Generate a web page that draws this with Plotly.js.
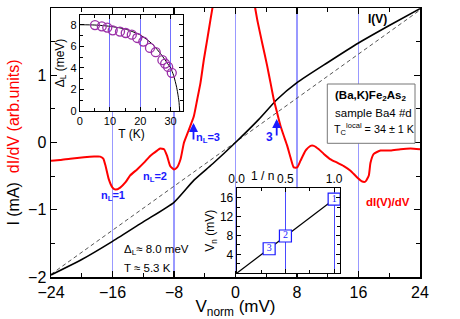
<!DOCTYPE html>
<html><head><meta charset="utf-8">
<script src="https://cdn.plot.ly/plotly-3.0.1.min.js"></script>
<style>html,body{margin:0;padding:0;background:#fff}#chart{width:460px;height:319px}</style>
</head><body><div id="chart"></div>
<script>
// ---- main panel: I(V) curve ----
const ivV = [-24,-20,-16,-12,-8,-5.4,-3,0,3,5.4,8,12,16,20,24];
const ivI = [-1.97,-1.74,-1.47,-1.18,-0.89,-0.56,-0.32,0,0.34,0.64,0.89,1.19,1.48,1.74,1.99];
// ohmic (normal-state) line
const ohmV = [-24, 24];
const ohmI = [-1.96, 1.97];
// dI/dV (arb. units, drawn on the same scale)
const didvV = [-24,-22.8,-21.5,-19.7,-18.4,-17.6,-17.2,-16.9,-16.5,-16.0,-15.6,-15.0,-14.3,-13.7,-12.8,-11.9,-11.1,-10.2,-9.8,-9.3,-8.9,-8.5,-8.0,-7.6,-7.15,-6.7,-6.2,-5.42,-4.98,-4.55,-4.12,-3.68,-3.25,-2.82,-2.4,2.0,2.38,2.82,3.47,4.12,4.55,4.98,5.42,5.85,6.28,6.73,7.15,7.58,8.03,8.46,9.11,9.76,10.19,10.84,11.49,12.36,13.23,14.09,14.96,15.83,16.48,16.91,17.34,17.56,17.99,18.86,20.16,21.46,22.76,24];
const didvG = [-0.27,-0.26,-0.24,-0.22,-0.21,-0.21,-0.24,-0.35,-0.54,-0.67,-0.70,-0.67,-0.59,-0.49,-0.40,-0.30,-0.20,-0.12,-0.09,-0.10,-0.20,-0.35,-0.40,-0.37,-0.25,0.0,0.15,0.39,0.64,0.89,1.23,1.53,1.83,2.12,2.4,2.4,2.12,1.83,1.48,1.14,0.89,0.64,0.44,0.25,0.10,-0.05,-0.22,-0.37,-0.37,-0.27,-0.12,-0.05,-0.05,-0.10,-0.17,-0.25,-0.30,-0.35,-0.42,-0.52,-0.58,-0.58,-0.49,-0.30,-0.17,-0.12,-0.12,-0.10,-0.09,-0.10];
// ---- inset 1: gap vs temperature ----
const gapT = [5.05,7.3,9.1,10.9,13.3,15.2,17.2,19.0,21.0,23.2,25.1,27.3,28.2,29.2,30.4];
const gapD = [7.97,7.85,7.73,7.48,7.36,7.23,7.08,6.77,6.44,5.85,5.45,4.71,4.4,4.09,3.54];
const fitT = [0,5,10,15,20,24,27,29,30,31,32,32.5,32.8,33];
const fitD = [8.0,7.97,7.85,7.6,7.05,6.2,5.2,4.4,4.0,3.3,2.2,1.4,0.8,0];
// ---- inset 2: V_n vs 1/n ----
const invN = [1, 0.5, 0.333];
const vN = [15.7, 7.9, 5.2];
const nLabels = ['1','2','3'];
const fitInvN = [0, 1];
const fitVn = [0, 15.7];

const W=460,H=319,L=51,R=40,T=8,B=42;
const pw=W-L-R, ph=H-T-B;
const px = x => (x-L)/pw;
const py = y => (H-B-y)/ph;

const FONT = 'Liberation Sans, Arial, Helvetica, sans-serif';
const BLUE = '#1a1aff';
const GRIDB = 'rgba(110,110,255,0.7)';

const traces = [
  {x: ohmV, y: ohmI, mode:'lines', line:{color:'#555', width:1, dash:'4px,3px'}, xaxis:'x', yaxis:'y', hoverinfo:'skip'},
  {x: ivV, y: ivI, mode:'lines', line:{color:'#000', width:1.6, shape:'spline', smoothing:0.6}, xaxis:'x', yaxis:'y'},
  {x: didvV, y: didvG, mode:'lines', line:{color:'#ff0000', width:2, shape:'spline', smoothing:0.5}, xaxis:'x', yaxis:'y'},
  {x: fitT, y: fitD, mode:'lines', line:{color:'#000', width:1, shape:'spline', smoothing:0.6}, xaxis:'x2', yaxis:'y2'},
  {x: gapT, y: gapD, mode:'markers', marker:{symbol:'circle-open', size:9, color:'#9b30a8', line:{width:1.3, color:'#9b30a8'}}, xaxis:'x2', yaxis:'y2'},
  {x: fitInvN, y: fitVn, mode:'lines', line:{color:'#000', width:1.2}, xaxis:'x3', yaxis:'y3'},
  {x: invN, y: vN, mode:'markers+text', text:nLabels, textposition:'middle center',
   textfont:{family:'Liberation Serif, DejaVu Serif, serif', size:10, color:BLUE},
   marker:{symbol:'square', size:12, color:'#fff', line:{width:1.2, color:BLUE}}, xaxis:'x3', yaxis:'y3', cliponaxis:false}
];

const axBase = {showline:true, linecolor:'#000', mirror:'ticks', ticks:'inside', zeroline:false, tickcolor:'#000'};

const ann = [];
function A(text, x, y, o){ ann.push(Object.assign({text:text, x:px(x), y:py(y), xref:'paper', yref:'paper', xanchor:'center', yanchor:'middle', showarrow:false, font:{family:FONT, size:11, color:'#000'}}, o||{})); }
function Arrow(x, y0, y1){ ann.push({text:'', x:px(x), y:py(y1), xref:'paper', yref:'paper', showarrow:true, ax:0, ay:(y0-y1), arrowhead:2, arrowsize:1, arrowwidth:1.8, arrowcolor:BLUE}); }

const TB = {family:FONT, size:11.5, color:'#000'};
A('<b>I(V)</b>', 377, 19, {font:{family:FONT, size:12, color:'#000'}});
A('<b>(Ba,K)Fe<sub>2</sub>As<sub>2</sub></b>', 333, 96, {xanchor:'left', font:TB});
A('sample Ba4 #d', 333, 113, {xanchor:'left', font:TB});
A('T<sub>C</sub><sup>local</sup> = 34 ± 1 K', 331.5, 129, {xanchor:'left', font:{family:FONT, size:10.8, color:'#000'}});
A('<b>dI(V)/dV</b>', 388, 202, {font:{family:FONT, size:11.5, color:'#ff0000'}});
A('<b>n<sub>L</sub>=1</b>', 112.5, 196, {font:{family:FONT, size:11, color:BLUE}});
A('<b>n<sub>L</sub>=2</b>', 155, 177, {font:{family:FONT, size:11, color:BLUE}});
A('<b>n<sub>L</sub>=3</b>', 208, 137.5, {font:{family:FONT, size:11, color:BLUE}});
A('<b>3</b>', 269.5, 137, {font:{family:FONT, size:12, color:BLUE}});
Arrow(193.5, 141, 123);
Arrow(276.7, 137, 119);
A('Δ<sub>L</sub>≈ 8.0 meV', 122, 250, {xanchor:'left', font:{family:FONT, size:11.5, color:'#000'}});
A('T ≈ 5.3 K', 122, 267.5, {xanchor:'left', font:{family:FONT, size:11.5, color:'#000'}});
// inset 2 top axis label
ann.push({text:'1 / n', x:0.26, y:18, xref:'x3', yref:'y3', xanchor:'center', yanchor:'bottom', yshift:3, showarrow:false, font:{family:FONT, size:12, color:'#000'}});

const shapes = [
  {type:'rect', xref:'paper', yref:'paper', x0:px(327.3), x1:px(415), y0:py(143.3), y1:py(84), line:{color:'#777', width:1}, fillcolor:'#fff', layer:'above'}
];

const layout = {
  width:W, height:H, margin:{l:L, r:R, t:T, b:B},
  paper_bgcolor:'#fff', plot_bgcolor:'#fff', showlegend:false,
  font:{family:FONT, color:'#000'},
  xaxis: Object.assign({}, axBase, {range:[-24,24], tick0:0, dtick:8, ticklen:6, tickwidth:1.2, linewidth:1.5,
    minor:{dtick:4, ticklen:4, ticks:'inside', tickcolor:'#000', showgrid:false},
    showgrid:true, gridcolor:GRIDB, gridwidth:1.3,
    tickfont:{size:16}, title:{text:'V<sub>norm</sub> (mV)', font:{size:17}, standoff:10}}),
  yaxis: Object.assign({}, axBase, {range:[-2,2], dtick:1, ticklen:6, tickwidth:1.2, linewidth:1.5,
    minor:{dtick:0.5, ticklen:4, ticks:'inside', tickcolor:'#000', showgrid:false},
    showgrid:false, tickfont:{size:16},
    title:{text:"I (mA)  <span style='color:#ff0000'>dI/dV (arb.units)</span>", font:{size:16}, standoff:4}}),
  xaxis2: Object.assign({}, axBase, {domain:[px(79.7), px(183.3)], anchor:'y2', range:[0,34.2], dtick:10, ticklen:4, linewidth:1,
    minor:{dtick:5, ticklen:3, ticks:'inside', tickcolor:'#000', showgrid:false},
    showgrid:true, gridcolor:'#7070ff', gridwidth:1,
    tickfont:{size:11}, title:{text:'T (K)', font:{size:12}, standoff:2}}),
  yaxis2: Object.assign({}, axBase, {domain:[py(111), py(15)], anchor:'x2', range:[0,8.9], dtick:2, ticklen:4, linewidth:1,
    minor:{dtick:1, ticklen:3, ticks:'inside', tickcolor:'#000', showgrid:false},
    showgrid:false, tickfont:{size:11}, title:{text:'Δ<sub>L</sub> (meV)', font:{size:12}, standoff:3}}),
  xaxis3: Object.assign({}, axBase, {domain:[px(236.7), px(340)], anchor:'y3', side:'top', range:[0,1.06],
    tickvals:[0,0.5,1], ticktext:['0.0','0.5','1.0'], ticklen:4, linewidth:1,
    minor:{dtick:0.25, ticklen:3, ticks:'inside', tickcolor:'#000', showgrid:false},
    showgrid:true, gridcolor:'#4a4aff', gridwidth:1, tickfont:{size:12}}),
  yaxis3: Object.assign({}, axBase, {domain:[py(273.3), py(188.3)], anchor:'x3', range:[0,18],
    tickvals:[4,8,12,16], ticklen:4, linewidth:1,
    minor:{dtick:2, ticklen:3, ticks:'inside', tickcolor:'#000', showgrid:false},
    showgrid:false, tickfont:{size:12}, title:{text:'V<sub>n</sub> (mV)', font:{size:12}, standoff:2}}),
  annotations: ann,
  shapes: shapes
};

Plotly.newPlot('chart', traces, layout, {displayModeBar:false, staticPlot:true});
</script></body></html>
